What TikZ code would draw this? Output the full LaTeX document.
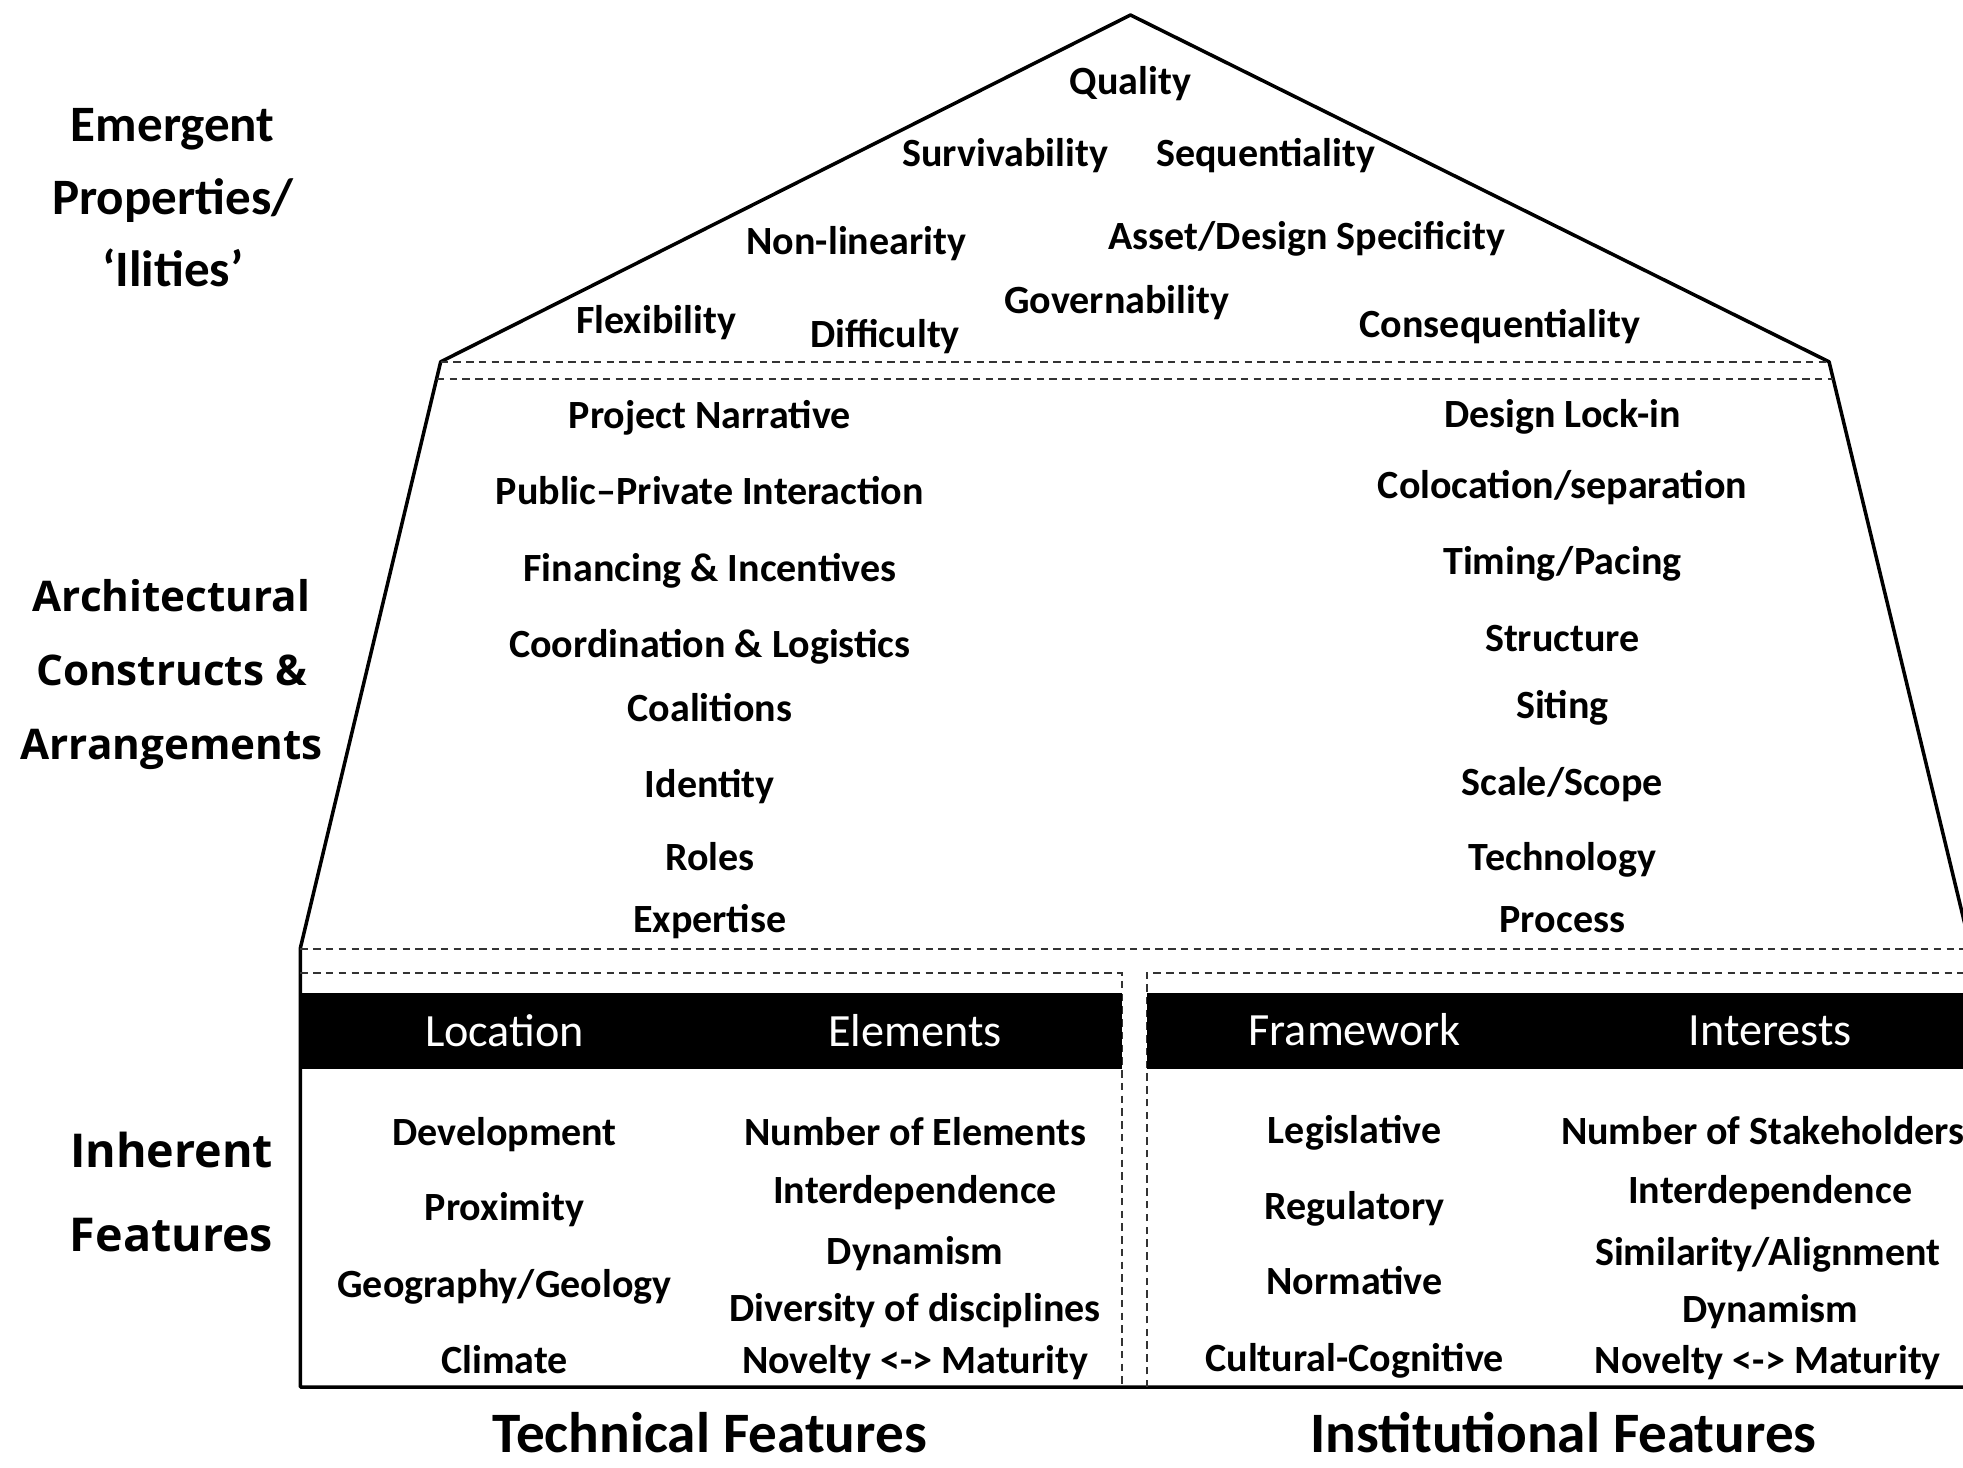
\documentclass[tikz,border=0pt]{standalone}
\usepackage{fontspec}
\setmainfont{Carlito}
\newfontfamily\sidefont{Open Sans}
\usepackage{tikz}
\usetikzlibrary{positioning}

\begin{document}
\begin{tikzpicture}[
    item/.style={font=\bfseries\fontsize{9.1}{11}\selectfont, inner sep=0pt, text height=1.55ex, text depth=0.45ex},
    head/.style={font=\fontsize{10.5}{12}\selectfont, text=white, inner sep=0pt, text height=1.55ex, text depth=0.45ex},
    foot/.style={font=\bfseries\fontsize{13}{15}\selectfont, inner sep=0pt, anchor=base},
    outline/.style={line width=0.8pt, line join=round},
    sep/.style={dash pattern=on 1.7pt off 1.2pt, line width=0.5pt, black!80}
]
\path[use as bounding box, fill=white] (0,0) rectangle (15.68,11.72);
\clip (0,0) rectangle (15.68,11.72);

% House outline
\coordinate (apex) at (9.03,11.60);
\coordinate (roofL) at (3.52,8.83);
\coordinate (roofR) at (14.61,8.83);
\coordinate (wallL) at (2.40,4.15);
\coordinate (wallR) at (15.74,4.15);
\coordinate (baseL) at (2.40,0.64);
\coordinate (baseR) at (15.74,0.64);
\draw[outline] (wallR) -- (roofR) -- (apex) -- (roofL) -- (wallL) -- (baseL) -- (baseR) -- cycle;

% Floor separators
\draw[sep] (roofL) -- (roofR);
\draw[sep] (3.49,8.69) -- (14.64,8.69);
\draw[sep] (2.40,4.14) -- (15.74,4.14);
\draw[sep] (2.40,3.95) -- (8.96,3.95) -- (8.96,0.64);
\draw[sep] (9.16,0.64) -- (9.16,3.95) -- (15.74,3.95);

% Header bars
\fill[black] (2.40,3.18) rectangle (8.96,3.79);
\fill[black] (9.16,3.18) rectangle (15.74,3.79);

% Side labels
\node[font=\bfseries\fontsize{11.6}{16.5}\selectfont, align=center, inner sep=0pt] (emergent) at (1.38,10.14) {Emergent\\Properties/\\‘Ilities’};
\node[font=\sidefont\bfseries\fontsize{9.6}{16.8}\selectfont, align=center, inner sep=0pt] (arch) at (1.37,6.33) {Architectural\\Constructs \&\\Arrangements};
\node[font=\sidefont\bfseries\fontsize{10.6}{19}\selectfont, align=center, inner sep=0pt] (inherent) at (1.37,2.20) {Inherent\\Features};

% Emergent properties (roof)
\node[item] (quality) at (9.03,11.06) {Quality};
\node[item] (surviv) at (8.03,10.48) {Survivability};
\node[item] (sequen) at (10.11,10.48) {Sequentiality};
\node[item] (nonlin) at (6.84,9.78) {Non-linearity};
\node[item] (asset) at (10.44,9.82) {Asset/Design Specificity};
\node[item] (flexib) at (5.24,9.15) {Flexibility};
\node[item] (diffic) at (7.07,9.04) {Difficulty};
\node[item] (govern) at (8.92,9.31) {Governability};
\node[item] (conseq) at (11.98,9.12) {Consequentiality};

% Architectural constructs, left column
\node[item] (narrative) at (5.67,8.39) {Project Narrative};
\node[item] (pubpriv) at (5.67,7.78) {Public--Private Interaction};
\node[item] (financing) at (5.67,7.17) {Financing \& Incentives};
\node[item] (coord) at (5.67,6.56) {Coordination \& Logistics};
\node[item] (coalitions) at (5.67,6.05) {Coalitions};
\node[item] (identity) at (5.67,5.44) {Identity};
\node[item] (roles) at (5.67,4.86) {Roles};
\node[item] (expertise) at (5.67,4.36) {Expertise};

% Architectural constructs, right column
\node[item] (lockin) at (12.48,8.40) {Design Lock-in};
\node[item] (coloc) at (12.48,7.83) {Colocation/separation};
\node[item] (timing) at (12.48,7.22) {Timing/Pacing};
\node[item] (structure) at (12.48,6.61) {Structure};
\node[item] (siting) at (12.48,6.07) {Siting};
\node[item] (scale) at (12.48,5.46) {Scale/Scope};
\node[item] (techno) at (12.48,4.86) {Technology};
\node[item] (process) at (12.48,4.36) {Process};

% Technical features
\node[head] (location) at (4.03,3.45) {Location};
\node[head] (elements) at (7.31,3.45) {Elements};
\node[item] (develop) at (4.03,2.66) {Development};
\node[item] (proximity) at (4.03,2.06) {Proximity};
\node[item] (geo) at (4.03,1.45) {Geography/Geology};
\node[item] (climate) at (4.03,0.84) {Climate};
\node[item] (numelem) at (7.31,2.66) {Number of Elements};
\node[item] (interdepT) at (7.31,2.20) {Interdependence};
\node[item] (dynamT) at (7.31,1.71) {Dynamism};
\node[item] (diversity) at (7.31,1.26) {Diversity of disciplines};
\node[item] (noveltyT) at (7.31,0.84) {Novelty <-> Maturity};

% Institutional features
\node[head] (framework) at (10.82,3.46) {Framework};
\node[head] (interests) at (14.14,3.46) {Interests};
\node[item] (legis) at (10.82,2.68) {Legislative};
\node[item] (regul) at (10.82,2.07) {Regulatory};
\node[item] (normat) at (10.82,1.47) {Normative};
\node[item] (cultural) at (10.82,0.86) {Cultural-Cognitive};
\node[item] (stakeh) at (14.08,2.67) {Number of Stakeholders};
\node[item] (interdepI) at (14.14,2.20) {Interdependence};
\node[item] (similar) at (14.12,1.70) {Similarity/Alignment};
\node[item] (dynamI) at (14.14,1.25) {Dynamism};
\node[item] (noveltyI) at (14.12,0.84) {Novelty <-> Maturity};

% Bottom captions
\node[foot] (technical) at (5.67,0.12) {Technical Features};
\node[foot] (institut) at (12.49,0.12) {Institutional Features};
\end{tikzpicture}
\end{document}
